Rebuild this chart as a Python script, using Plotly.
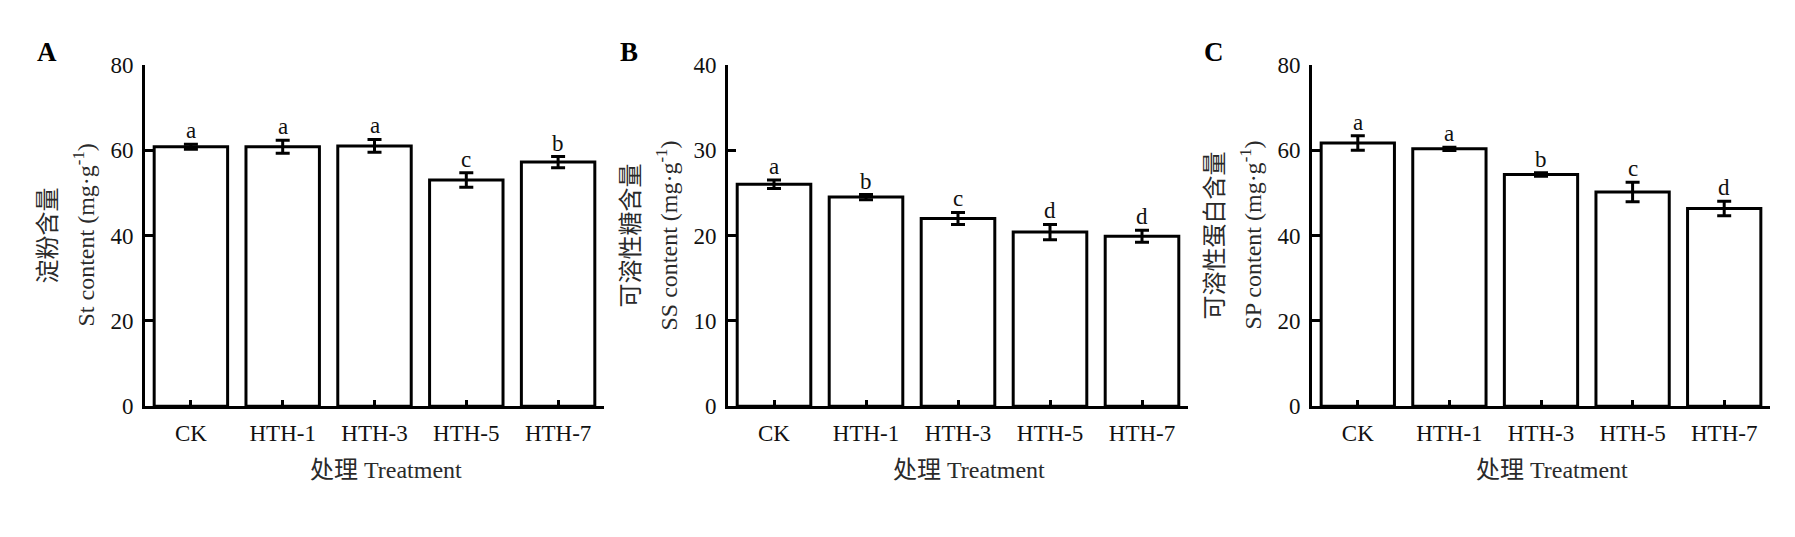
import plotly.graph_objects as go

treatments = ["CK", "HTH-1", "HTH-3", "HTH-5", "HTH-7"]

starch = [60.8, 60.8, 61.0, 53.0, 57.2]
starch_err = [0.6, 1.5, 1.5, 1.7, 1.3]
starch_sig = ["a", "a", "a", "c", "b"]

sugar = [26.0, 24.5, 22.0, 20.4, 19.9]
sugar_err = [0.5, 0.3, 0.7, 0.9, 0.7]
sugar_sig = ["a", "b", "c", "d", "d"]

protein = [61.7, 60.3, 54.3, 50.2, 46.3]
protein_err = [1.7, 0.4, 0.4, 2.3, 1.7]
protein_sig = ["a", "a", "b", "c", "d"]

panel_letters = ["A", "B", "C"]
y_cn = ["淀粉含量", "可溶性糖含量", "可溶性蛋白含量"]
y_en = ["St content", "SS content", "SP content"]
y_max = [80, 40, 80]
y_step = [20, 10, 20]
x_title = "处理 Treatment"

W, H = 1795, 537
FONT = "Liberation Serif, Times New Roman, Noto Sans CJK SC, serif"
INK = "#111111"

# pixel positions of plot areas
x_px = [(137, 596), (720, 1180), (1304, 1762)]
y_top, y_bot = 47, 405

values = [starch, sugar, protein]
errors = [starch_err, sugar_err, protein_err]
letters = [starch_sig, sugar_sig, protein_sig]

fig = go.Figure()
annotations = []

for i in range(3):
    sfx = "" if i == 0 else str(i + 1)
    xa, ya = "x" + sfx, "y" + sfx

    fig.add_trace(go.Bar(
        x=treatments, y=values[i], xaxis=xa, yaxis=ya,
        width=0.8,
        marker=dict(color="white", line=dict(color="black", width=3)),
        error_y=dict(type="data", array=errors[i], color="black",
                     thickness=3, width=7),
        showlegend=False,
    ))

    for cat, v, e, s in zip(treatments, values[i], errors[i], letters[i]):
        annotations.append(dict(
            x=cat, y=v + e, xref=xa, yref=ya, text=s, showarrow=False,
            yanchor="bottom", yshift=-1,
            font=dict(family=FONT, size=23, color=INK),
        ))

    x0, x1 = x_px[i]
    fig.update_layout(**{
        "xaxis" + sfx: dict(
            domain=[x0 / W, x1 / W], anchor=ya,
            range=[-0.5, 4.5], showline=True, linecolor="black", linewidth=3,
            ticks="inside", ticklen=6, tickwidth=3, tickcolor="black",
            ticklabelstandoff=4, showgrid=False, zeroline=False,
            tickfont=dict(family=FONT, size=23, color=INK),
        ),
        "yaxis" + sfx: dict(
            domain=[1 - y_bot / H, 1 - y_top / H], anchor=xa,
            range=[0, y_max[i]], dtick=y_step[i],
            showline=True, linecolor="black", linewidth=3,
            ticks="inside", ticklen=8, tickwidth=3, tickcolor="black",
            ticklabelstandoff=4, showgrid=False, zeroline=False,
            tickfont=dict(family=FONT, size=23, color=INK),
        ),
    })

    # y titles (two lines)
    yc = 1 - (y_top + y_bot) / 2 / H
    annotations.append(dict(
        x=(x0 - 97) / W, y=yc, xref="paper", yref="paper",
        text=y_cn[i], textangle=-90, showarrow=False,
        xanchor="center", yanchor="middle",
        font=dict(family=FONT, size=24, color="#2a2a2a"),
    ))
    annotations.append(dict(
        x=(x0 - 61) / W, y=yc, xref="paper", yref="paper",
        text=y_en[i] + " (mg·g<sup>-1</sup>)", textangle=-90, showarrow=False,
        xanchor="center", yanchor="middle",
        font=dict(family=FONT, size=24, color="#2a2a2a"),
    ))
    # x title
    annotations.append(dict(
        x=((x0 + x1) / 2 + 11) / W, y=1 - 472 / H, xref="paper", yref="paper",
        text=x_title, showarrow=False, xanchor="center", yanchor="middle",
        font=dict(family=FONT, size=24, color="#2a2a2a"),
    ))
    # panel letter
    annotations.append(dict(
        x=(x0 - 110) / W, y=1 - 34 / H, xref="paper", yref="paper",
        text="<b>" + panel_letters[i] + "</b>", showarrow=False,
        xanchor="left", yanchor="middle",
        font=dict(family=FONT, size=27, color="black"),
    ))

fig.update_layout(
    width=W, height=H,
    margin=dict(l=0, r=0, t=0, b=0),
    paper_bgcolor="white", plot_bgcolor="white",
    annotations=annotations,
    bargap=0.2,
)

fig.write_html("out.html")
